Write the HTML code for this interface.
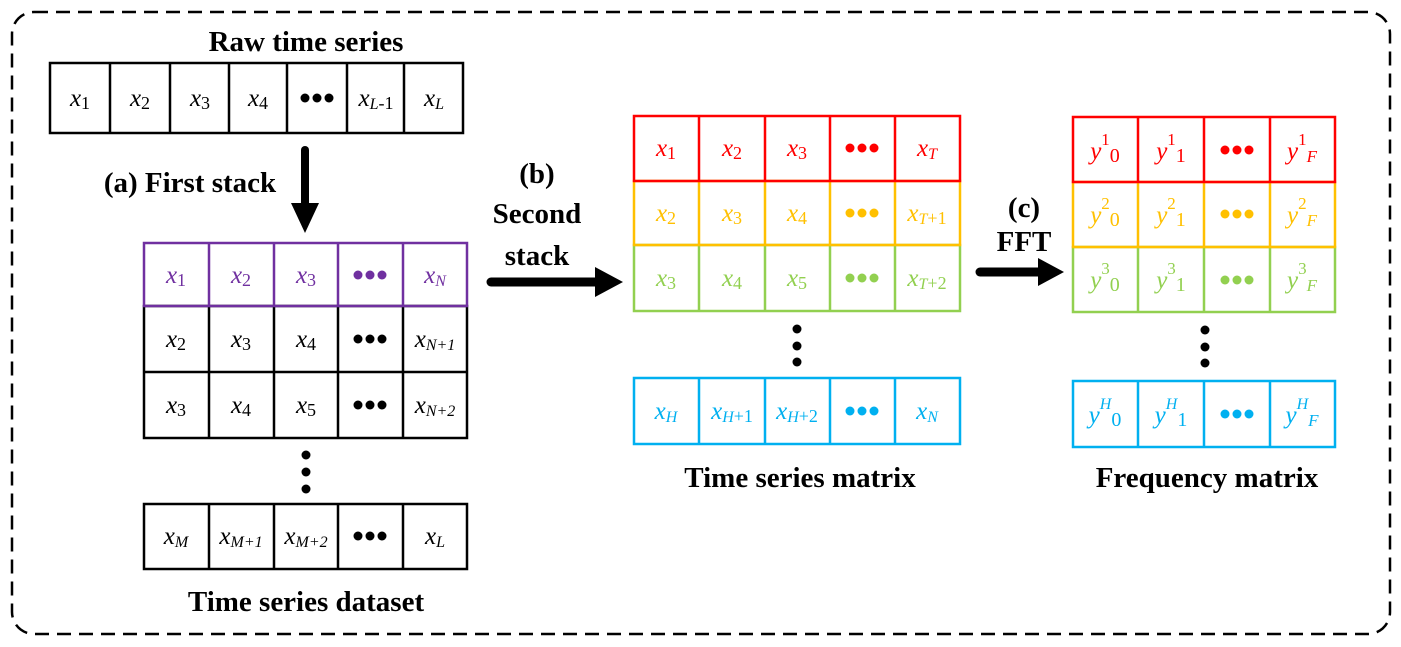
<!DOCTYPE html>
<html><head><meta charset="utf-8"><style>
html,body{margin:0;padding:0;background:#fff;}
svg{display:block;}
.t{font-family:"Liberation Serif",serif;font-weight:bold;font-size:29px;text-anchor:middle;fill:#000;}
.c{font-family:"Liberation Serif",serif;font-style:italic;font-size:25px;text-anchor:middle;}
.s{font-size:18px;font-style:normal;}
.si{font-size:16px;font-style:italic;}
.sup{font-size:17px;font-style:normal;}
.supi{font-size:16px;font-style:italic;}
.g{font-size:20px;font-style:normal;}
.gi{font-size:17px;font-style:italic;}
</style></head><body>
<svg width="1401" height="647" viewBox="0 0 1401 647" xmlns="http://www.w3.org/2000/svg">
<rect x="12" y="12" width="1378" height="622" rx="22" fill="none" stroke="#000" stroke-width="2.5" stroke-dasharray="14,8"/>

<!-- Raw -->
<text class="t" x="306" y="51">Raw time series</text>
<g fill="none" stroke="#000" stroke-width="2.5">
<rect x="50" y="63" width="413" height="70"/>
<path d="M110 63V133M170 63V133M229 63V133M287 63V133M347 63V133M404 63V133"/>
</g>
<g class="c" fill="#000">
<text x="80" y="106">x<tspan class="s" dy="3">1</tspan></text>
<text x="140" y="106">x<tspan class="s" dy="3">2</tspan></text>
<text x="200" y="106">x<tspan class="s" dy="3">3</tspan></text>
<text x="258" y="106">x<tspan class="s" dy="3">4</tspan></text>
<text x="376" y="106">x<tspan class="si" dy="3">L</tspan><tspan class="s">-1</tspan></text>
<text x="434" y="106">x<tspan class="si" dy="3">L</tspan></text>
</g>
<g fill="#000"><circle cx="305" cy="98" r="4.5"/><circle cx="317" cy="98" r="4.5"/><circle cx="329" cy="98" r="4.5"/></g>

<!-- (a) arrow -->
<text class="t" x="190" y="192">(a) First stack</text>
<path d="M305 150V207" stroke="#000" stroke-width="8" stroke-linecap="round"/>
<path d="M291 203H319L305 233Z" fill="#000"/>

<!-- Dataset -->
<g fill="none" stroke-width="2.5">
<rect x="144" y="306" width="323" height="132" stroke="#000"/>
<path d="M144 372H467M209 306V438M274 306V438M338 306V438M403 306V438" stroke="#000"/>
<rect x="144" y="243" width="323" height="63" stroke="#7030a0"/>
<path d="M209 243V306M274 243V306M338 243V306M403 243V306" stroke="#7030a0"/>
<rect x="144" y="504" width="323" height="65" stroke="#000"/>
<path d="M209 504V569M274 504V569M338 504V569M403 504V569" stroke="#000"/>
</g>
<g class="c" fill="#7030a0">
<text x="176" y="283">x<tspan class="s" dy="3">1</tspan></text>
<text x="241" y="283">x<tspan class="s" dy="3">2</tspan></text>
<text x="306" y="283">x<tspan class="s" dy="3">3</tspan></text>
<text x="435" y="283">x<tspan class="si" dy="3">N</tspan></text>
</g>
<g fill="#7030a0"><circle cx="358" cy="275" r="4.5"/><circle cx="370" cy="275" r="4.5"/><circle cx="382" cy="275" r="4.5"/></g>
<g class="c" fill="#000">
<text x="176" y="347">x<tspan class="s" dy="3">2</tspan></text>
<text x="241" y="347">x<tspan class="s" dy="3">3</tspan></text>
<text x="306" y="347">x<tspan class="s" dy="3">4</tspan></text>
<text x="435" y="347">x<tspan class="si" dy="3">N</tspan><tspan class="si">+1</tspan></text>
<text x="176" y="413">x<tspan class="s" dy="3">3</tspan></text>
<text x="241" y="413">x<tspan class="s" dy="3">4</tspan></text>
<text x="306" y="413">x<tspan class="s" dy="3">5</tspan></text>
<text x="435" y="413">x<tspan class="si" dy="3">N</tspan><tspan class="si">+2</tspan></text>
<text x="176" y="544">x<tspan class="si" dy="3">M</tspan></text>
<text x="241" y="544">x<tspan class="si" dy="3">M</tspan><tspan class="si">+1</tspan></text>
<text x="306" y="544">x<tspan class="si" dy="3">M</tspan><tspan class="si">+2</tspan></text>
<text x="435" y="544">x<tspan class="si" dy="3">L</tspan></text>
</g>
<g fill="#000">
<circle cx="358" cy="339" r="4.5"/><circle cx="370" cy="339" r="4.5"/><circle cx="382" cy="339" r="4.5"/>
<circle cx="358" cy="405" r="4.5"/><circle cx="370" cy="405" r="4.5"/><circle cx="382" cy="405" r="4.5"/>
<circle cx="358" cy="536" r="4.5"/><circle cx="370" cy="536" r="4.5"/><circle cx="382" cy="536" r="4.5"/>
<circle cx="306" cy="455" r="4.5"/><circle cx="306" cy="472" r="4.5"/><circle cx="306" cy="489" r="4.5"/>
</g>
<text class="t" x="306" y="611">Time series dataset</text>

<!-- (b) -->
<text class="t" x="537" y="183">(b)</text>
<text class="t" x="537" y="223">Second</text>
<text class="t" x="537" y="265">stack</text>
<path d="M491 282H600" stroke="#000" stroke-width="9" stroke-linecap="round"/>
<path d="M595 267L623 282L595 297Z" fill="#000"/>

<!-- Time series matrix -->
<g fill="none" stroke-width="2.5">
<rect x="634" y="245" width="326" height="66" stroke="#92d050"/>
<path d="M699 245V311M765 245V311M830 245V311M895 245V311" stroke="#92d050"/>
<rect x="634" y="181" width="326" height="64" stroke="#ffc000"/>
<path d="M699 181V245M765 181V245M830 181V245M895 181V245" stroke="#ffc000"/>
<rect x="634" y="116" width="326" height="65" stroke="#ff0000"/>
<path d="M699 116V181M765 116V181M830 116V181M895 116V181" stroke="#ff0000"/>
<rect x="634" y="378" width="326" height="66" stroke="#00b0f0"/>
<path d="M699 378V444M765 378V444M830 378V444M895 378V444" stroke="#00b0f0"/>
</g>
<g class="c" fill="#ff0000">
<text x="666" y="156">x<tspan class="s" dy="3">1</tspan></text>
<text x="732" y="156">x<tspan class="s" dy="3">2</tspan></text>
<text x="797" y="156">x<tspan class="s" dy="3">3</tspan></text>
<text x="927" y="156">x<tspan class="si" dy="3">T</tspan></text>
</g>
<g fill="#ff0000"><circle cx="850" cy="148" r="4.5"/><circle cx="862" cy="148" r="4.5"/><circle cx="874" cy="148" r="4.5"/></g>
<g class="c" fill="#ffc000">
<text x="666" y="221">x<tspan class="s" dy="3">2</tspan></text>
<text x="732" y="221">x<tspan class="s" dy="3">3</tspan></text>
<text x="797" y="221">x<tspan class="s" dy="3">4</tspan></text>
<text x="927" y="221">x<tspan class="si" dy="3">T</tspan><tspan class="s">+1</tspan></text>
</g>
<g fill="#ffc000"><circle cx="850" cy="213" r="4.5"/><circle cx="862" cy="213" r="4.5"/><circle cx="874" cy="213" r="4.5"/></g>
<g class="c" fill="#92d050">
<text x="666" y="286">x<tspan class="s" dy="3">3</tspan></text>
<text x="732" y="286">x<tspan class="s" dy="3">4</tspan></text>
<text x="797" y="286">x<tspan class="s" dy="3">5</tspan></text>
<text x="927" y="286">x<tspan class="si" dy="3">T</tspan><tspan class="s">+2</tspan></text>
</g>
<g fill="#92d050"><circle cx="850" cy="278" r="4.5"/><circle cx="862" cy="278" r="4.5"/><circle cx="874" cy="278" r="4.5"/></g>
<g class="c" fill="#00b0f0">
<text x="666" y="419">x<tspan class="si" dy="3">H</tspan></text>
<text x="732" y="419">x<tspan class="si" dy="3">H</tspan><tspan class="s">+1</tspan></text>
<text x="797" y="419">x<tspan class="si" dy="3">H</tspan><tspan class="s">+2</tspan></text>
<text x="927" y="419">x<tspan class="si" dy="3">N</tspan></text>
</g>
<g fill="#00b0f0"><circle cx="850" cy="411" r="4.5"/><circle cx="862" cy="411" r="4.5"/><circle cx="874" cy="411" r="4.5"/></g>
<g fill="#000"><circle cx="797" cy="329" r="4.5"/><circle cx="797" cy="346" r="4.5"/><circle cx="797" cy="362" r="4.5"/></g>
<text class="t" x="800" y="487">Time series matrix</text>

<!-- (c) FFT -->
<text class="t" x="1024" y="217">(c)</text>
<text class="t" x="1024" y="251">FFT</text>
<path d="M980 272H1042" stroke="#000" stroke-width="9" stroke-linecap="round"/>
<path d="M1038 258L1064 272L1038 286Z" fill="#000"/>

<!-- Frequency matrix -->
<g fill="none" stroke-width="2.5">
<rect x="1073" y="247" width="262" height="65" stroke="#92d050"/>
<path d="M1138 247V312M1204 247V312M1270 247V312" stroke="#92d050"/>
<rect x="1073" y="182" width="262" height="65" stroke="#ffc000"/>
<path d="M1138 182V247M1204 182V247M1270 182V247" stroke="#ffc000"/>
<rect x="1073" y="117" width="262" height="65" stroke="#ff0000"/>
<path d="M1138 117V182M1204 117V182M1270 117V182" stroke="#ff0000"/>
<rect x="1073" y="381" width="262" height="66" stroke="#00b0f0"/>
<path d="M1138 381V447M1204 381V447M1270 381V447" stroke="#00b0f0"/>
</g>
<g class="c" fill="#ff0000">
<text x="1105" y="159">y<tspan class="sup" dy="-14">1</tspan><tspan class="g" dy="17">0</tspan></text>
<text x="1171" y="159">y<tspan class="sup" dy="-14">1</tspan><tspan class="g" dy="17">1</tspan></text>
<text x="1302" y="159">y<tspan class="sup" dy="-14">1</tspan><tspan class="gi" dy="17">F</tspan></text>
</g>
<g fill="#ff0000"><circle cx="1225" cy="150" r="4.5"/><circle cx="1237" cy="150" r="4.5"/><circle cx="1249" cy="150" r="4.5"/></g>
<g class="c" fill="#ffc000">
<text x="1105" y="223">y<tspan class="sup" dy="-14">2</tspan><tspan class="g" dy="17">0</tspan></text>
<text x="1171" y="223">y<tspan class="sup" dy="-14">2</tspan><tspan class="g" dy="17">1</tspan></text>
<text x="1302" y="223">y<tspan class="sup" dy="-14">2</tspan><tspan class="gi" dy="17">F</tspan></text>
</g>
<g fill="#ffc000"><circle cx="1225" cy="214" r="4.5"/><circle cx="1237" cy="214" r="4.5"/><circle cx="1249" cy="214" r="4.5"/></g>
<g class="c" fill="#92d050">
<text x="1105" y="288">y<tspan class="sup" dy="-14">3</tspan><tspan class="g" dy="17">0</tspan></text>
<text x="1171" y="288">y<tspan class="sup" dy="-14">3</tspan><tspan class="g" dy="17">1</tspan></text>
<text x="1302" y="288">y<tspan class="sup" dy="-14">3</tspan><tspan class="gi" dy="17">F</tspan></text>
</g>
<g fill="#92d050"><circle cx="1225" cy="280" r="4.5"/><circle cx="1237" cy="280" r="4.5"/><circle cx="1249" cy="280" r="4.5"/></g>
<g class="c" fill="#00b0f0">
<text x="1105" y="423">y<tspan class="supi" dy="-14">H</tspan><tspan class="g" dy="17">0</tspan></text>
<text x="1171" y="423">y<tspan class="supi" dy="-14">H</tspan><tspan class="g" dy="17">1</tspan></text>
<text x="1302" y="423">y<tspan class="supi" dy="-14">H</tspan><tspan class="gi" dy="17">F</tspan></text>
</g>
<g fill="#00b0f0"><circle cx="1225" cy="414" r="4.5"/><circle cx="1237" cy="414" r="4.5"/><circle cx="1249" cy="414" r="4.5"/></g>
<g fill="#000"><circle cx="1205" cy="330" r="4.5"/><circle cx="1205" cy="347" r="4.5"/><circle cx="1205" cy="363" r="4.5"/></g>
<text class="t" x="1207" y="487">Frequency matrix</text>
</svg>
</body></html>
